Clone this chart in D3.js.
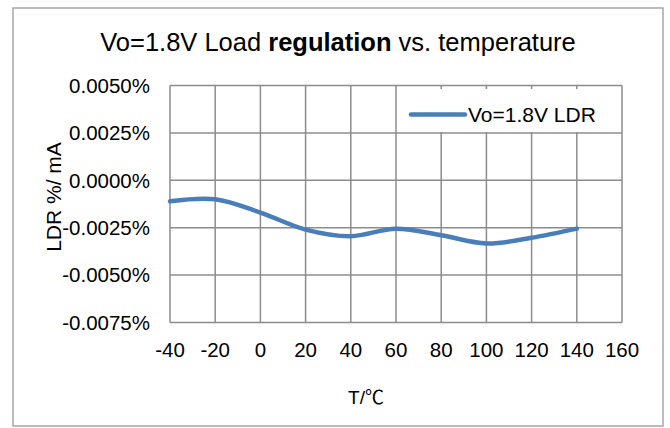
<!DOCTYPE html>
<meta charset="utf-8">
<style>
body { margin: 0; background: #fff; }
text { font-family: "Liberation Sans", Arial, sans-serif; fill: #000; }
.grid line { stroke: #8c8c8c; stroke-width: 1.5px; }
</style>
<body>
<script src="https://d3js.org/d3.v7.min.js"></script>
<script>
// temperature (C) and load regulation (% / mA)
var temps = [-40, -20, 0, 20, 40, 60, 80, 100, 120, 140];
var ldr = [-0.0011, -0.0010, -0.0017, -0.0026, -0.00295, -0.00255, -0.0029, -0.00333, -0.00303, -0.00255];
var xTicks = [-40, -20, 0, 20, 40, 60, 80, 100, 120, 140, 160];
var yTicks = [-0.0075, -0.005, -0.0025, 0, 0.0025, 0.005];
var seriesName = "Vo=1.8V LDR";

var width = 670, height = 428;
var svg = d3.select("body").append("svg")
    .attr("width", width)
    .attr("height", height);

// outer chart border
svg.append("rect")
    .attr("x", 13).attr("y", 8)
    .attr("width", 650).attr("height", 418)
    .attr("fill", "#fff")
    .attr("stroke", "#a6a6a6")
    .attr("stroke-width", 1.5);

var x = d3.scaleLinear().domain([-40, 160]).range([170, 622]);
var y = d3.scaleLinear().domain([-0.0075, 0.005]).range([322.5, 85.5]);

var grid = svg.append("g").attr("class", "grid");
grid.selectAll(".vx").data(xTicks).enter().append("line")
    .attr("x1", d => x(d)).attr("x2", d => x(d))
    .attr("y1", y(0.005)).attr("y2", y(-0.0075));
grid.selectAll(".hy").data(yTicks).enter().append("line")
    .attr("x1", x(-40)).attr("x2", x(160))
    .attr("y1", d => y(d)).attr("y2", d => y(d));

// tick labels
svg.append("g").selectAll("text").data(yTicks).enter().append("text")
    .attr("x", 150).attr("y", d => y(d))
    .attr("dy", "0.36em")
    .attr("text-anchor", "end")
    .style("font-size", "20.5px")
    .text(d => (d === 0 ? 0 : d).toFixed(4) + "%");

svg.append("g").selectAll("text").data(xTicks).enter().append("text")
    .attr("x", d => x(d)).attr("y", 357)
    .attr("text-anchor", "middle")
    .style("font-size", "20.5px")
    .text(d => d);

// legend
svg.append("rect")
    .attr("x", 400).attr("y", 89)
    .attr("width", 208).attr("height", 43)
    .attr("fill", "#fff");
svg.append("line")
    .attr("x1", 411).attr("x2", 465)
    .attr("y1", 114.5).attr("y2", 114.5)
    .attr("stroke", "#4a7ebb")
    .attr("stroke-width", 4.5)
    .attr("stroke-linecap", "round");
svg.append("text")
    .attr("x", 468).attr("y", 122)
    .style("font-size", "21px")
    .text(seriesName);

// series
var line = d3.line()
    .x((d, i) => x(temps[i]))
    .y(d => y(d))
    .curve(d3.curveCatmullRom.alpha(0.5));
svg.append("path")
    .datum(ldr)
    .attr("d", line)
    .attr("fill", "none")
    .attr("stroke", "#4a7ebb")
    .attr("stroke-width", 4.5)
    .attr("stroke-linecap", "round")
    .attr("stroke-linejoin", "round");

// title
var title = svg.append("text")
    .attr("x", 338).attr("y", 51)
    .attr("text-anchor", "middle")
    .style("font-size", "25.5px");
title.append("tspan").text("Vo=1.8V Load ");
title.append("tspan").style("font-weight", "bold").text("regulation");
title.append("tspan").text(" vs. temperature");

// axis titles
svg.append("text")
    .attr("transform", "translate(61,197) rotate(-90)")
    .attr("text-anchor", "middle")
    .style("font-size", "21px")
    .text("LDR %/ mA");
svg.append("text")
    .attr("x", 366).attr("y", 404)
    .attr("text-anchor", "middle")
    .style("font-size", "19px")
    .text("T/")
  .append("tspan")
    .style("font-family", "'Noto Sans CJK SC', sans-serif")
    .text("℃");
</script>
